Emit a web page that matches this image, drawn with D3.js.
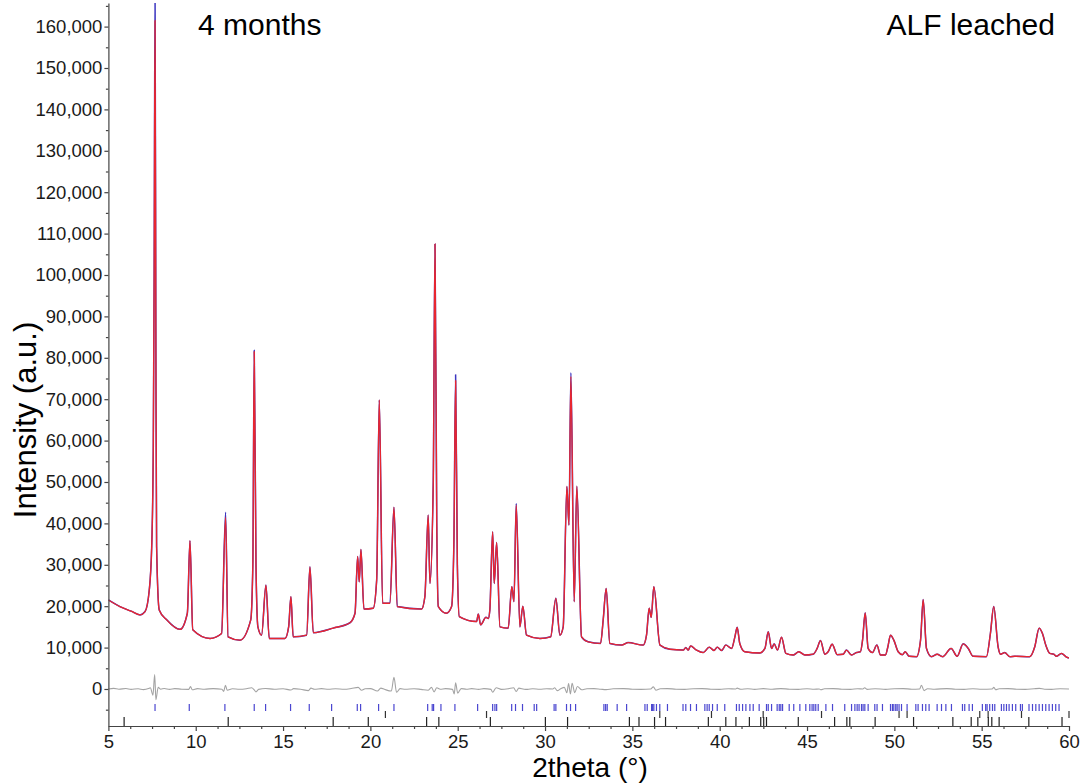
<!DOCTYPE html>
<html>
<head>
<meta charset="utf-8">
<script src="https://cdn.jsdelivr.net/npm/d3@7"></script>
<style>
  body { margin: 0; background: #fff; }
  svg { font-family: "Liberation Sans", Arial, sans-serif; }
</style>
</head>
<body>
<script>
var width = 1084;
var height = 783;

/* calculated profile, [2theta, intensity] */
const profile = [
  [5.0, 21500], [5.66, 19900], [6.3, 18800], [6.81, 17900], [7.1, 18700], [7.34, 23900],
  [7.48, 34400], [7.57, 58500], [7.62, 100000], [7.67, 161500], [7.72, 80000], [7.76, 34400],
  [7.91, 19100], [8.34, 16700], [9.1, 14400], [9.52, 18300], [9.67, 35800], [9.83, 14300],
  [10.82, 12200], [11.48, 13400], [11.71, 41500], [11.85, 12600], [12.53, 11800], [13.15, 16700],
  [13.27, 30000], [13.35, 81500], [13.45, 30000], [13.56, 15000], [13.77, 13000], [14.02, 25100],
  [14.21, 12200], [15.11, 12200], [15.32, 15000], [15.45, 22300], [15.58, 12600], [16.35, 13000],
  [16.54, 29500], [16.73, 13600], [17.87, 14700], [18.83, 16000], [19.12, 18300], [19.27, 32000],
  [19.36, 25900], [19.46, 33700], [19.63, 19300], [20.16, 19500], [20.36, 26300], [20.51, 69800],
  [20.7, 20700], [21.12, 20700], [21.35, 43900], [21.54, 19900], [22.93, 19300], [23.12, 22300],
  [23.31, 42000], [23.41, 25500], [23.6, 50000], [23.7, 107500], [23.8, 40000], [23.89, 19900],
  [24.36, 18300], [24.65, 19900], [24.78, 35000], [24.88, 74500], [24.98, 30000], [25.09, 17500],
  [26.08, 16300], [26.18, 18100], [26.31, 15500], [26.62, 17300], [26.75, 17000], [26.84, 19100],
  [27.0, 38000], [27.09, 25500], [27.23, 35400], [27.42, 15000], [27.89, 14700], [28.1, 24700],
  [28.22, 21100], [28.35, 44400], [28.56, 15000], [28.73, 20000], [28.94, 13000], [29.71, 12200],
  [30.32, 12600], [30.62, 21900], [30.85, 13000], [31.04, 15000], [31.25, 48900], [31.37, 39600],
  [31.48, 75500], [31.67, 21100], [31.82, 49000], [32.09, 12600], [32.47, 11400], [33.18, 11000],
  [33.33, 16700], [33.5, 24300], [33.71, 11000], [34.38, 10600], [34.76, 11200], [35.62, 10600],
  [35.81, 13000], [35.96, 19500], [36.08, 17300], [36.23, 24700], [36.58, 10600], [37.15, 9600],
  [37.91, 9400], [38.06, 10000], [38.2, 9400], [38.33, 10400], [38.67, 9400], [39.06, 8800],
  [39.4, 10100], [39.67, 9300], [39.86, 10100], [40.11, 9300], [40.35, 10600], [40.68, 9800],
  [40.87, 12600], [41.0, 14900], [41.15, 11000], [41.44, 9000], [42.3, 8700], [42.59, 9800],
  [42.78, 13800], [42.97, 9800], [43.12, 10900], [43.31, 9400], [43.54, 12500], [43.79, 8600],
  [44.21, 8200], [44.53, 9000], [44.88, 8200], [45.35, 8400], [45.58, 9800], [45.77, 11700],
  [46.02, 8400], [46.21, 9000], [46.44, 10800], [46.73, 8300], [47.07, 8400], [47.26, 9400],
  [47.55, 8200], [47.83, 8800], [48.06, 9000], [48.18, 11800], [48.33, 18400], [48.5, 9800],
  [48.75, 8800], [49.0, 10600], [49.21, 8200], [49.49, 8200], [49.63, 10200], [49.78, 13000],
  [49.97, 11800], [50.22, 9000], [50.47, 8300], [50.62, 9000], [50.85, 7900], [51.27, 7800],
  [51.5, 11800], [51.65, 21600], [51.84, 9800], [52.13, 7800], [52.45, 8400], [52.76, 7800],
  [53.25, 9800], [53.6, 7900], [53.94, 10900], [54.23, 9800], [54.51, 7900], [55.27, 7800],
  [55.5, 13400], [55.69, 19900], [55.94, 10200], [56.08, 8400], [56.32, 8800], [56.61, 7800],
  [56.9, 7900], [57.75, 7800], [58.04, 10200], [58.29, 14700], [58.48, 13400], [58.67, 10600],
  [58.9, 8600], [59.13, 8400], [59.28, 7900], [59.57, 8600], [59.85, 7700], [60.0, 7500]
];

/* observed tops that stick out of the calculated curve */
const obsTops = [
  [7.67, 170000], [11.71, 42700], [13.35, 81800], [24.88, 75900], [28.35, 44800], [31.48, 76400]
];

/* difference curve (obs - calc) */
const diffCurve = [
  [5.0, 0], [5.3, 150], [5.6, -80], [6.0, 120], [6.3, -100], [6.7, 60], [7.0, -150], [7.3, 100],
  [7.4, 300], [7.55, -1500], [7.65, 3500], [7.72, -2600], [7.85, 400], [8.0, -50], [8.2, 120],
  [8.5, -100], [8.8, 100], [9.2, -60], [9.6, -100], [9.7, 600], [9.8, -200], [10.1, 80],
  [10.5, -60], [11.0, 100], [11.5, -50], [11.6, -600], [11.7, 900], [11.8, -300], [12.1, 60],
  [12.5, -80], [12.9, 60], [13.2, 300], [13.35, -200], [13.45, -700], [13.6, -100], [14.0, 120],
  [14.5, -80], [15.0, 60], [15.45, -250], [15.6, 80], [16.0, -60], [16.45, -400], [16.6, 200],
  [16.8, -50], [17.2, 80], [17.6, -60], [18.0, 60], [18.5, -80], [18.9, 100], [19.3, 400],
  [19.5, -300], [19.7, 60], [20.0, 100], [20.4, -500], [20.6, 200], [20.8, -80], [21.2, -500],
  [21.35, 2800], [21.5, -800], [21.7, 100], [22.0, -80], [22.5, 60], [22.9, -100], [23.3, -300],
  [23.5, 400], [23.65, -700], [23.8, 300], [24.0, -60], [24.3, 80], [24.7, -100], [24.8, -1200],
  [24.88, 1500], [25.0, -1000], [25.2, 100], [25.5, -60], [25.8, 80], [26.2, -100], [26.5, 100],
  [26.9, -100], [27.0, -800], [27.2, 300], [27.5, -100], [27.9, 60], [28.2, 300], [28.35, -600],
  [28.5, 200], [28.8, -60], [29.0, -100], [29.3, 60], [29.7, -80], [30.1, 60], [30.45, 0],
  [30.55, 300], [30.7, -400], [30.9, 60], [31.1, 400], [31.25, -900], [31.35, 1300], [31.45, -1200],
  [31.55, 1400], [31.7, -900], [31.85, 600], [32.1, -200], [32.4, 60], [32.8, 100], [33.2, -60],
  [33.5, -150], [33.9, 60], [34.5, 100], [35.0, -60], [35.5, -100], [36.05, 0], [36.2, 500],
  [36.35, -300], [36.6, 60], [37.0, 100], [37.5, -60], [38.0, -100], [38.5, 60], [39.0, 100],
  [39.5, -60], [40.0, -100], [40.5, 60], [40.9, 0], [41.0, 200], [41.2, -50], [41.6, 60],
  [42.0, -100], [42.5, 80], [43.0, -60], [43.5, 100], [44.0, -60], [44.5, -100], [45.0, 60],
  [45.4, -80], [45.7, 0], [45.8, -200], [46.0, 60], [46.5, 100], [47.0, -60], [47.5, -100],
  [47.9, 60], [48.2, 0], [48.3, 300], [48.45, -100], [48.9, 60], [49.5, -100], [50.0, 60],
  [50.5, 100], [51.0, -60], [51.45, 0], [51.55, 900], [51.7, -400], [51.9, 60], [52.3, -60],
  [53.0, 100], [53.5, -60], [54.0, -100], [54.5, 60], [55.0, -60], [55.6, 0], [55.7, 400],
  [55.8, -200], [56.0, 60], [56.5, 100], [57.0, -60], [57.5, -100], [58.0, 60], [58.3, 150],
  [58.6, -60], [59.0, -100], [59.5, 60], [60.0, 0]
];

/* reflection markers */
const phase1Ticks = [
  7.67, 9.63, 11.67, 13.35, 14.0, 15.43, 16.5, 17.78, 19.25, 19.44, 20.47, 21.35, 23.28, 23.54,
  23.62, 24.04, 24.84, 26.14, 27.0, 27.13, 27.23, 28.09, 28.31, 28.71, 29.38, 29.52, 30.52, 30.62,
  31.23, 31.46, 31.75, 33.37, 33.47, 33.56, 34.13, 34.67, 35.72, 35.85, 36.1, 36.16, 36.23, 36.38,
  36.57, 37.01, 37.9, 38.06, 38.33, 38.67, 39.15, 39.28, 39.4, 39.59, 39.86, 40.29, 40.96, 41.12,
  41.31, 41.5, 41.73, 41.92, 42.26, 42.68, 42.78, 42.97, 43.29, 43.41, 43.5, 43.6, 43.98, 44.24,
  44.59, 44.93, 45.16, 45.29, 45.39, 45.5, 45.64, 46.08, 46.46, 47.16, 47.55, 47.74, 47.87, 47.98,
  48.12, 48.21, 48.31, 48.5, 48.88, 49.01, 49.32, 49.78, 49.89, 49.97, 50.08, 50.16, 50.27, 50.41,
  50.73, 51.23, 51.36, 51.61, 51.8, 51.99, 52.45, 52.7, 52.95, 53.27, 53.9, 54.03, 54.28, 54.47,
  55.04, 55.23, 55.31, 55.46, 55.62, 55.75, 56.13, 56.27, 56.42, 56.57, 56.76, 56.95, 57.22, 57.33,
  57.71, 57.91, 58.1, 58.29, 58.48, 58.67, 58.86, 59.05, 59.24, 59.43
];
const phase2Ticks = [20.86, 26.65, 36.57, 39.53, 42.49, 45.83, 50.27, 50.73, 54.89, 55.37, 57.28, 60.0];
const phase3Ticks = [
  5.9, 11.86, 17.87, 19.88, 23.22, 23.92, 26.87, 30.02, 31.29, 34.83, 35.38, 36.27, 36.9, 39.35,
  40.35, 40.93, 41.7, 42.35, 42.52, 42.68, 44.5, 46.58, 47.28, 47.45, 48.9, 51.1, 53.35, 54.4,
  54.78, 55.38, 55.58, 56.0, 57.7, 59.6
];

const xTicks = [5, 10, 15, 20, 25, 30, 35, 40, 45, 50, 55, 60];
const yTicks = [0, 10000, 20000, 30000, 40000, 50000, 60000, 70000, 80000, 90000,
  100000, 110000, 120000, 130000, 140000, 150000, 160000];

const x = d3.scaleLinear().domain([5, 60]).range([108.4, 1069]);
const y = d3.scaleLinear().domain([-8940, 165700]).range([726, 3]);

const svg = d3.select("body").append("svg")
  .attr("width", width)
  .attr("height", height);

svg.append("defs").append("clipPath")
  .attr("id", "plot-clip")
  .append("rect")
  .attr("x", x(5))
  .attr("y", y.range()[1])
  .attr("width", x(60) - x(5))
  .attr("height", y.range()[0] - y.range()[1]);

const line = d3.line()
  .x(d => x(d[0]))
  .y(d => y(d[1]))
  .curve(d3.curveMonotoneX);

const obsProfile = profile.map(function (d) {
  const t = obsTops.find(o => o[0] === d[0]);
  return t ? [d[0], t[1]] : d;
});

const plot = svg.append("g").attr("clip-path", "url(#plot-clip)");

/* difference */
plot.append("path")
  .datum(diffCurve)
  .attr("fill", "none")
  .attr("stroke", "#a3a3a3")
  .attr("stroke-width", 1.1)
  .attr("d", line);

/* observed + calculated */
plot.append("path")
  .datum(obsProfile)
  .attr("fill", "none")
  .attr("stroke", "#3b35c0")
  .attr("stroke-width", 1.5)
  .attr("stroke-linejoin", "round")
  .attr("d", line);

plot.append("path")
  .datum(profile)
  .attr("fill", "none")
  .attr("stroke", "#e8262f")
  .attr("stroke-width", 1.35)
  .attr("stroke-linejoin", "round")
  .attr("d", line);

/* reflection markers */
function markers(data, y1, y2, color) {
  svg.append("g")
    .selectAll("line")
    .data(data)
    .enter().append("line")
    .attr("x1", d => x(d))
    .attr("x2", d => x(d))
    .attr("y1", y1)
    .attr("y2", y2)
    .attr("stroke", color)
    .attr("stroke-width", 1.2);
}
markers(phase1Ticks, 704, 711, "#4a46d0");
markers(phase2Ticks, 711, 718, "#333");
markers(phase3Ticks, 717, 726, "#222");

/* axes */
const minorX = d3.range(5, 60.01, 1.25).filter(v => xTicks.indexOf(v) < 0);
const minorY = d3.range(-5000, 165001, 5000).filter(v => yTicks.indexOf(v) < 0);

svg.append("g")
  .attr("transform", "translate(0," + y.range()[0] + ")")
  .call(d3.axisBottom(x).tickValues(xTicks).tickSize(5).tickSizeOuter(0).tickPadding(3.5)
    .tickFormat(d3.format("d")));

svg.append("g")
  .attr("transform", "translate(0," + y.range()[0] + ")")
  .call(d3.axisBottom(x).tickValues(minorX).tickSize(3).tickFormat(""))
  .select(".domain").remove();

svg.append("g")
  .attr("transform", "translate(" + x(5) + ",0)")
  .call(d3.axisLeft(y).tickValues(yTicks).tickSize(4).tickSizeOuter(0).tickPadding(2)
    .tickFormat(d3.format(",")));

svg.append("g")
  .attr("transform", "translate(" + x(5) + ",0)")
  .call(d3.axisLeft(y).tickValues(minorY).tickSize(2.5).tickFormat(""))
  .select(".domain").remove();

svg.selectAll(".domain, .tick line")
  .attr("stroke", "#444")
  .attr("stroke-width", 1.2);

svg.selectAll(".tick text")
  .attr("fill", "#1a1a1a")
  .style("font-size", "18.5px")
  .style("font-family", "'Liberation Sans', Arial, sans-serif");

/* axis titles */
svg.append("text")
  .attr("x", 590)
  .attr("y", 777)
  .attr("text-anchor", "middle")
  .style("font-size", "28px")
  .text("2theta (°)");

svg.append("text")
  .attr("transform", "translate(36,420) rotate(-90)")
  .attr("text-anchor", "middle")
  .style("font-size", "31px")
  .text("Intensity (a.u.)");

/* annotations */
svg.append("text")
  .attr("x", 198)
  .attr("y", 35)
  .style("font-size", "30px")
  .text("4 months");

svg.append("text")
  .attr("x", 1055)
  .attr("y", 35)
  .attr("text-anchor", "end")
  .style("font-size", "30px")
  .text("ALF leached");
</script>
</body>
</html>
